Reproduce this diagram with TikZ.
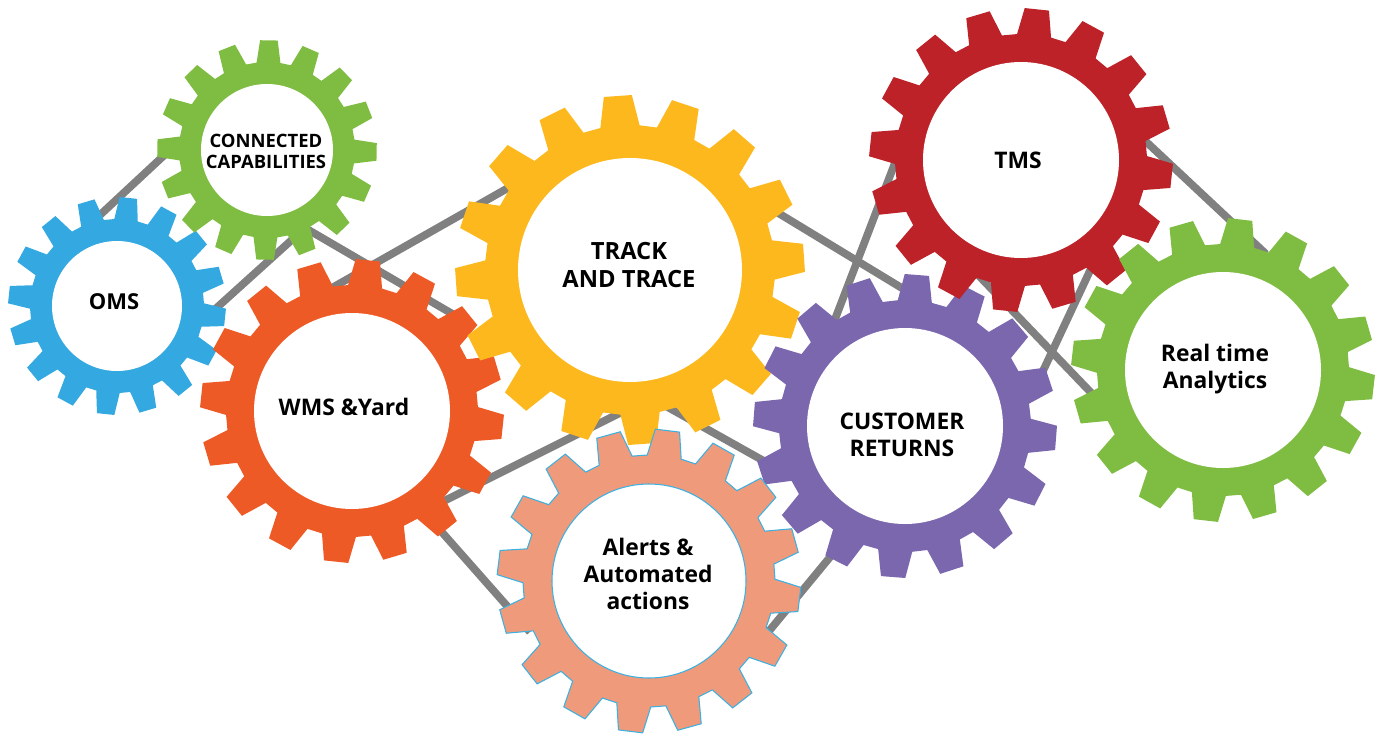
\documentclass[tikz,border=0pt]{standalone}
\usepackage{fontspec}
\setmainfont{Open Sans}
\usetikzlibrary{calc}

\definecolor{omsblue}{RGB}{52,168,224}
\definecolor{leafgreen}{RGB}{127,189,66}
\definecolor{wmsorange}{RGB}{238,90,38}
\definecolor{trackyellow}{RGB}{253,184,30}
\definecolor{alertsalmon}{RGB}{240,154,124}
\definecolor{alertrim}{RGB}{60,176,224}
\definecolor{retpurple}{RGB}{123,103,174}
\definecolor{tmsred}{RGB}{188,34,40}
\definecolor{linkgray}{RGB}{128,128,128}

% gear: center, tip radius, root radius, hole radius, tooth offset, style
\newcommand{\drawgear}[6]{%
  \begin{scope}[shift={#1}]
    \path[#6] ({#5-7.8}:#3) \foreach \i in {0,...,15}{
      -- ({#5+22.5*\i-4.6}:#2) -- ({#5+22.5*\i+4.6}:#2)
      -- ({#5+22.5*\i+7.8}:#3) -- ({#5+22.5*\i+14.7}:#3)
    } -- cycle;
    \path[#6, fill=white] (0,0) circle[radius=#4];
  \end{scope}
}

\begin{document}
\begin{tikzpicture}[x=0.02cm, y=-0.02cm,
    link/.style={draw=linkgray, line width=4.4pt},
    gearlabel/.style={font=\bfseries\fontsize{13}{15.5}\selectfont, align=center, text=black}]
    \useasboundingbox (0,0) rectangle (1380,734);

    % Ends of the grey links (hidden under the gears)
    \coordinate (omsA) at (100,215);   \coordinate (ccA) at (172,148);
    \coordinate (omsB) at (212,312);   \coordinate (ccB) at (295,237);
    \coordinate (ccC) at (300,225);    \coordinate (trackA) at (468,323);
    \coordinate (wmsA) at (330,289);   \coordinate (trackB) at (515,184);
    \coordinate (trackC) at (765,205); \coordinate (retA) at (915,296);
    \coordinate (tmsA) at (898,155);   \coordinate (retB) at (832,327);
    \coordinate (tmsB) at (958,254);   \coordinate (rtaA) at (1100,402);
    \coordinate (tmsC) at (1140,136);  \coordinate (rtaB) at (1266,254);
    \coordinate (rtaC) at (1095,260);  \coordinate (retC) at (1035,388);
    \coordinate (wmsB) at (440,503);   \coordinate (trackD) at (630,408);
    \coordinate (trackE) at (655,400); \coordinate (retD) at (805,484);
    \coordinate (wmsC) at (425,513);   \coordinate (alertA) at (530,632);
    \coordinate (alertB) at (760,642); \coordinate (retE) at (840,545);

    % Links
    \path [link] (omsA) -- (ccA);
    \path [link] (omsB) -- (ccB);
    \path [link] (ccC) -- (trackA);
    \path [link] (wmsA) -- (trackB);
    \path [link] (trackC) -- (retA);
    \path [link] (tmsA) -- (retB);
    \path [link] (tmsB) -- (rtaA);
    \path [link] (tmsC) -- (rtaB);
    \path [link] (rtaC) -- (retC);
    \path [link] (wmsB) -- (trackD);
    \path [link] (trackE) -- (retD);
    \path [link] (wmsC) -- (alertA);
    \path [link] (alertB) -- (retE);

    % Gears
    \drawgear{(117,306)}{109}{87}{65}{6}{fill=omsblue}
    \drawgear{(267,150)}{110}{88}{66}{1}{fill=leafgreen}
    \drawgear{(352,411)}{152}{126}{98}{6}{fill=wmsorange}
    \drawgear{(630,270)}{175}{145}{112}{18.5}{fill=trackyellow}
    \drawgear{(905,426)}{152}{126}{98}{4.5}{fill=retpurple}
    \drawgear{(1021,160)}{152}{126}{98}{6}{fill=tmsred}
    \drawgear{(1223,370)}{152}{126}{98}{6.5}{fill=leafgreen}
    \drawgear{(649,581)}{152}{126}{97}{7}{fill=alertsalmon, draw=alertrim, line width=0.6pt}

    % Place nodes
    \node [gearlabel, font=\bfseries\fontsize{12.5}{14}\selectfont] (oms) at (114,302) {OMS};
    \node [gearlabel, font=\bfseries\fontsize{10.5}{12}\selectfont] (cc) at (266,151) {CONNECTED\\CAPABILITIES};
    \node [gearlabel] (wms) at (344,407) {WMS \&Yard};
    \node [gearlabel, font=\bfseries\fontsize{13.5}{16}\selectfont] (track) at (629,265) {TRACK\\AND TRACE};
    \node [gearlabel] (alerts) at (648,574) {Alerts \&\\Automated\\actions};
    \node [gearlabel] (returns) at (902,435) {CUSTOMER\\RETURNS};
    \node [gearlabel] (tms) at (1018,160) {TMS};
    \node [gearlabel] (analytics) at (1215,369) {Real time\\Analytics};
\end{tikzpicture}
\end{document}
